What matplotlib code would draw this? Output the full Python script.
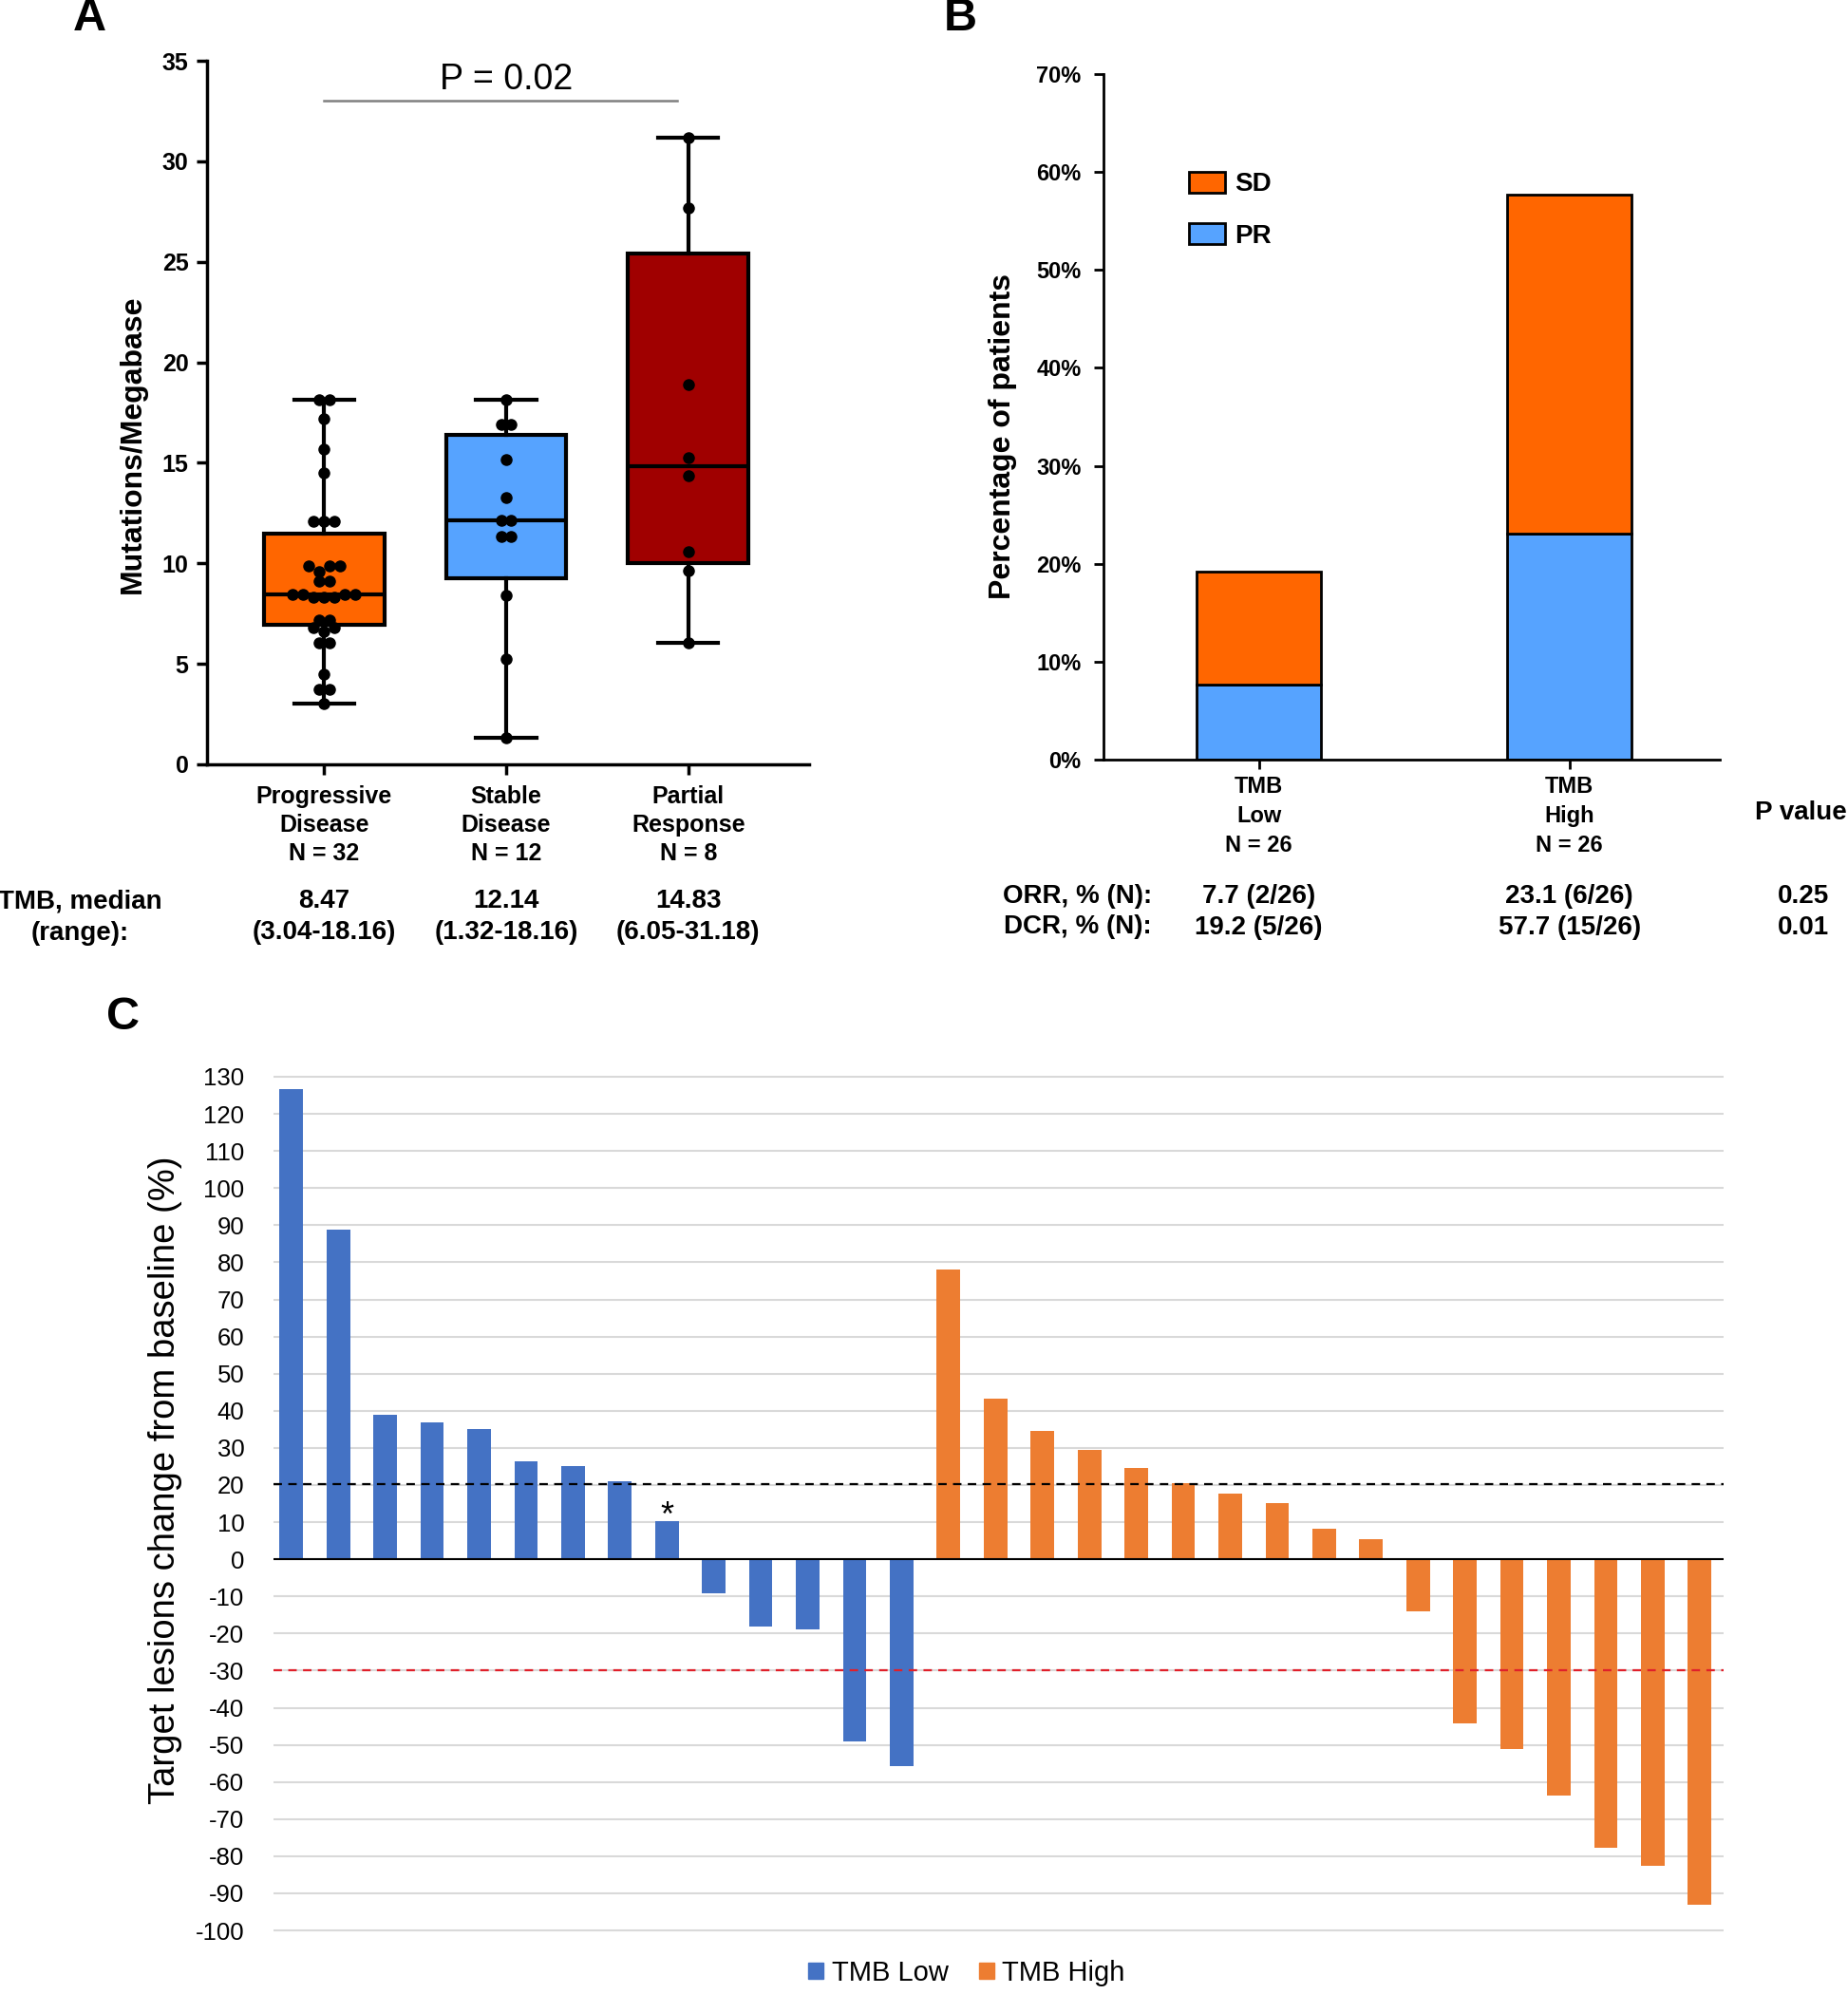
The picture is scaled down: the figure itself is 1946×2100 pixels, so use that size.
import matplotlib
matplotlib.use('Agg')
import matplotlib.pyplot as plt
import numpy as np
from matplotlib.patches import Patch

ARIAL = ['Liberation Sans', 'DejaVu Sans']
plt.rcParams['font.family'] = ARIAL

# ---- panel A data ----
groups_a = ['Progressive\nDisease\nN = 32', 'Stable\nDisease\nN = 12', 'Partial\nResponse\nN = 8']
progressive = [3.04, 3.75, 3.75, 4.5, 6.05, 6.05, 6.6, 6.8, 6.8, 7.2, 7.2,
               8.3, 8.3, 8.3, 8.47, 8.47, 8.47, 8.47, 9.1, 9.1, 9.6, 9.85, 9.85, 9.85,
               12.1, 12.1, 12.1, 14.5, 15.7, 17.2, 18.16, 18.16]
stable = [1.32, 5.26, 8.42, 11.35, 11.35, 12.14, 12.14, 13.25, 15.15, 16.9, 16.9, 18.16]
partial = [6.05, 9.65, 10.57, 14.38, 15.28, 18.9, 27.7, 31.18]
q1_a = [6.92, 9.27, 10.0]
q3_a = [11.49, 16.38, 25.43]
median_a = [8.47, 12.14, 14.83]
low_a = [3.04, 1.32, 6.05]
high_a = [18.16, 18.16, 31.18]
median_text = ['8.47\n(3.04-18.16)', '12.14\n(1.32-18.16)', '14.83\n(6.05-31.18)']
colors_a = ['#FF6600', '#56A3FF', '#A00000']

# ---- panel B data ----
groups_b = ['TMB\nLow\nN = 26', 'TMB\nHigh\nN = 26']
pr_b = [7.7, 23.1]
sd_b = [11.5, 34.6]
orr_text = ['7.7 (2/26)', '23.1 (6/26)']
dcr_text = ['19.2 (5/26)', '57.7 (15/26)']
p_values = ['0.25', '0.01']

# ---- panel C data ----
low_change = [126.7, 88.8, 39.0, 36.9, 35.0, 26.5, 25.0, 21.0, 10.2, -9.1, -18.1, -18.8, -49.0, -55.7]
high_change = [78.0, 43.2, 34.6, 29.4, 24.7, 20.6, 17.8, 15.2, 8.1, 5.4, -14.0, -44.1,
               -51.0, -63.6, -77.8, -82.7, -93.2]

W, H = 1946, 2100
fig = plt.figure(figsize=(W / 100, H / 100), dpi=100)


def box(l, t, r, b):
    return [l / W, 1 - b / H, (r - l) / W, (b - t) / H]


def rows_offsets(vals, tol=0.3, step=0.057):
    # spread near-equal values side by side, like a column scatter
    vals = sorted(vals)
    rows = [[vals[0]]]
    for v in vals[1:]:
        if v - rows[-1][0] > tol:
            rows.append([v])
        else:
            rows[-1].append(v)
    xs, ys = [], []
    for row in rows:
        n = len(row)
        offs = [(i - (n - 1) / 2) * step for i in range(n)]
        offs = sorted(offs, key=lambda o: (abs(o), o))
        for v, o in zip(sorted(row), offs):
            xs.append(o)
            ys.append(v)
    return np.array(xs), np.array(ys)


# ================= Panel A =================
axA = fig.add_axes(box(218, 64, 852, 805))
stats = []
for i in range(3):
    stats.append(dict(med=median_a[i], q1=q1_a[i], q3=q3_a[i], whislo=low_a[i], whishi=high_a[i], fliers=[]))
bp = axA.bxp(stats, positions=[1, 2, 3], widths=0.66, patch_artist=True, showfliers=False,
             capwidths=0.33,
             boxprops=dict(linewidth=3, edgecolor='black'),
             whiskerprops=dict(linewidth=3, color='black'),
             capprops=dict(linewidth=3, color='black'),
             medianprops=dict(linewidth=3, color='black'))
for patch, c in zip(bp['boxes'], colors_a):
    patch.set_facecolor(c)
for i, vals in enumerate([progressive, stable, partial]):
    ox, oy = rows_offsets(vals)
    axA.plot(i + 1 + ox, oy, 'o', color='black', ms=8, zorder=5, clip_on=False)

axA.set_ylim(0, 35)
axA.set_xlim(0.357, 3.664)
axA.set_yticks(range(0, 36, 5))
axA.set_xticks([1, 2, 3])
axA.set_xticklabels(groups_a, fontsize=21, fontweight='bold', linespacing=1.3)
for s in ['top', 'right']:
    axA.spines[s].set_visible(False)
for s in ['left', 'bottom']:
    axA.spines[s].set_linewidth(2.5)
axA.tick_params(axis='both', width=2.5, length=8, labelsize=18)
axA.tick_params(axis='x', pad=8)
axA.tick_params(axis='y', pad=6)
for lab in axA.get_yticklabels():
    lab.set_fontweight('bold')
axA.set_ylabel('Mutations/Megabase', fontsize=23, fontweight='bold')
axA.yaxis.set_label_coords(-0.1, 0.455)

axA.plot([1.0, 2.94], [33.0, 33.0], color='#808080', lw=1.8)
axA.text(2.0, 34.05, 'P = 0.02', ha='center', va='center', fontsize=27)

xtr = axA.get_xaxis_transform()
for i, t in enumerate(median_text):
    axA.text(i + 1, -0.217, t, transform=xtr, ha='center', va='center', fontsize=20,
             fontweight='bold', linespacing=1.35)
fig.text(84 / W, 1 - 966 / H, 'TMB, median\n(range):', ha='center', va='center', fontsize=20,
         fontweight='bold', linespacing=1.35)

# ================= Panel B =================
axB = fig.add_axes(box(1162, 78, 1811, 800))
xb = np.arange(len(groups_b))
axB.bar(xb, pr_b, width=0.4, color='#56A3FF', edgecolor='black', linewidth=2, label='PR')
axB.bar(xb, sd_b, bottom=pr_b, width=0.4, color='#FF6600', edgecolor='black', linewidth=2, label='SD')
axB.set_ylim(0, 70)
axB.set_xlim(-0.5, 1.484)
axB.set_yticks(range(0, 71, 10))
axB.set_yticklabels([f'{v}%' for v in range(0, 71, 10)])
axB.set_xticks(xb)
axB.set_xticklabels(groups_b, fontsize=22, fontweight='bold', linespacing=1.45)
for s in ['top', 'right']:
    axB.spines[s].set_visible(False)
for s in ['left', 'bottom']:
    axB.spines[s].set_linewidth(2)
axB.tick_params(axis='both', width=2, length=7, labelsize=17)
axB.tick_params(axis='x', pad=5)
axB.tick_params(axis='y', pad=10)
for lab in axB.get_yticklabels():
    lab.set_fontweight('bold')
axB.set_ylabel('Percentage of patients', fontsize=23, fontweight='bold')
axB.yaxis.set_label_coords(-0.14, 0.471)
handles = [Patch(facecolor='#FF6600', edgecolor='black', linewidth=2, label='SD'),
           Patch(facecolor='#56A3FF', edgecolor='black', linewidth=2, label='PR')]
axB.legend(handles=handles, loc='upper left', bbox_to_anchor=(0.118, 0.877), frameon=False,
           prop=dict(weight='bold', size=20), handlelength=1.35, handleheight=0.85,
           labelspacing=1.0, handletextpad=0.35, borderpad=0)

btr = axB.get_xaxis_transform()
axB.text(1.746, -0.077, 'P value', transform=btr, ha='center', va='center', fontsize=20,
         fontweight='bold', clip_on=False)
fig.text(1213 / W, 1 - 944 / H, 'ORR, % (N):', ha='right', va='center', fontsize=20, fontweight='bold')
fig.text(1213 / W, 1 - 976 / H, 'DCR, % (N):', ha='right', va='center', fontsize=20, fontweight='bold')
for i in range(2):
    axB.text(xb[i], -0.2, orr_text[i], transform=btr, ha='center', va='center', fontsize=20, fontweight='bold')
    axB.text(xb[i], -0.245, dcr_text[i], transform=btr, ha='center', va='center', fontsize=20, fontweight='bold')
    axB.text(1.754, [-0.2, -0.245][i], p_values[i], transform=btr, ha='center', va='center',
             fontsize=20, fontweight='bold')

# ================= Panel C =================
axC = fig.add_axes(box(288, 1132, 1815, 2035))
xl = np.arange(len(low_change))
xh = len(low_change) + np.arange(len(high_change))
axC.bar(xl, low_change, width=0.5, color='#4472C4', zorder=3)
axC.bar(xh, high_change, width=0.5, color='#ED7D31', zorder=3)
axC.axhline(0, color='black', lw=1.5, zorder=4)
axC.axhline(20.3, color='black', lw=1.6, ls=(0, (4, 3)), zorder=5)
axC.axhline(-29.8, color='#E0202A', lw=1.6, ls=(0, (4, 3)), zorder=5)
axC.text(xl[8], low_change[8] - 3.3, '*', ha='center', va='bottom', fontsize=26)
axC.set_ylim(-100.5, 130.5)
axC.set_xlim(-0.38, len(low_change) + len(high_change) - 1 + 0.51)
axC.set_yticks(range(-100, 131, 10))
axC.set_yticklabels([str(v) for v in range(-100, 131, 10)], fontsize=18.5)
axC.set_xticks([])
axC.yaxis.grid(True, color='#D9D9D9', lw=1.5)
axC.set_axisbelow(True)
for s in axC.spines.values():
    s.set_visible(False)
axC.tick_params(axis='y', length=0, pad=22)
axC.set_ylabel('Target lesions change from baseline (%)', fontsize=27.5)
axC.yaxis.set_label_coords(-0.063, 0.527)
fig.legend(handles=[Patch(color='#4472C4', label='TMB Low'), Patch(color='#ED7D31', label='TMB High')],
           loc='center', bbox_to_anchor=(0.523, 0.0105), ncol=2, frameon=False,
           prop=dict(size=21), handlelength=0.55, handleheight=0.55,
           handletextpad=0.3, columnspacing=1.1)

# panel letters
for x, y, s in [(94, 20, 'A'), (1011, 20, 'B'), (130, 1072, 'C')]:
    fig.text(x / W, 1 - y / H, s, ha='center', va='center', fontsize=35, fontweight='bold')

fig.savefig('out.png', dpi=100)
